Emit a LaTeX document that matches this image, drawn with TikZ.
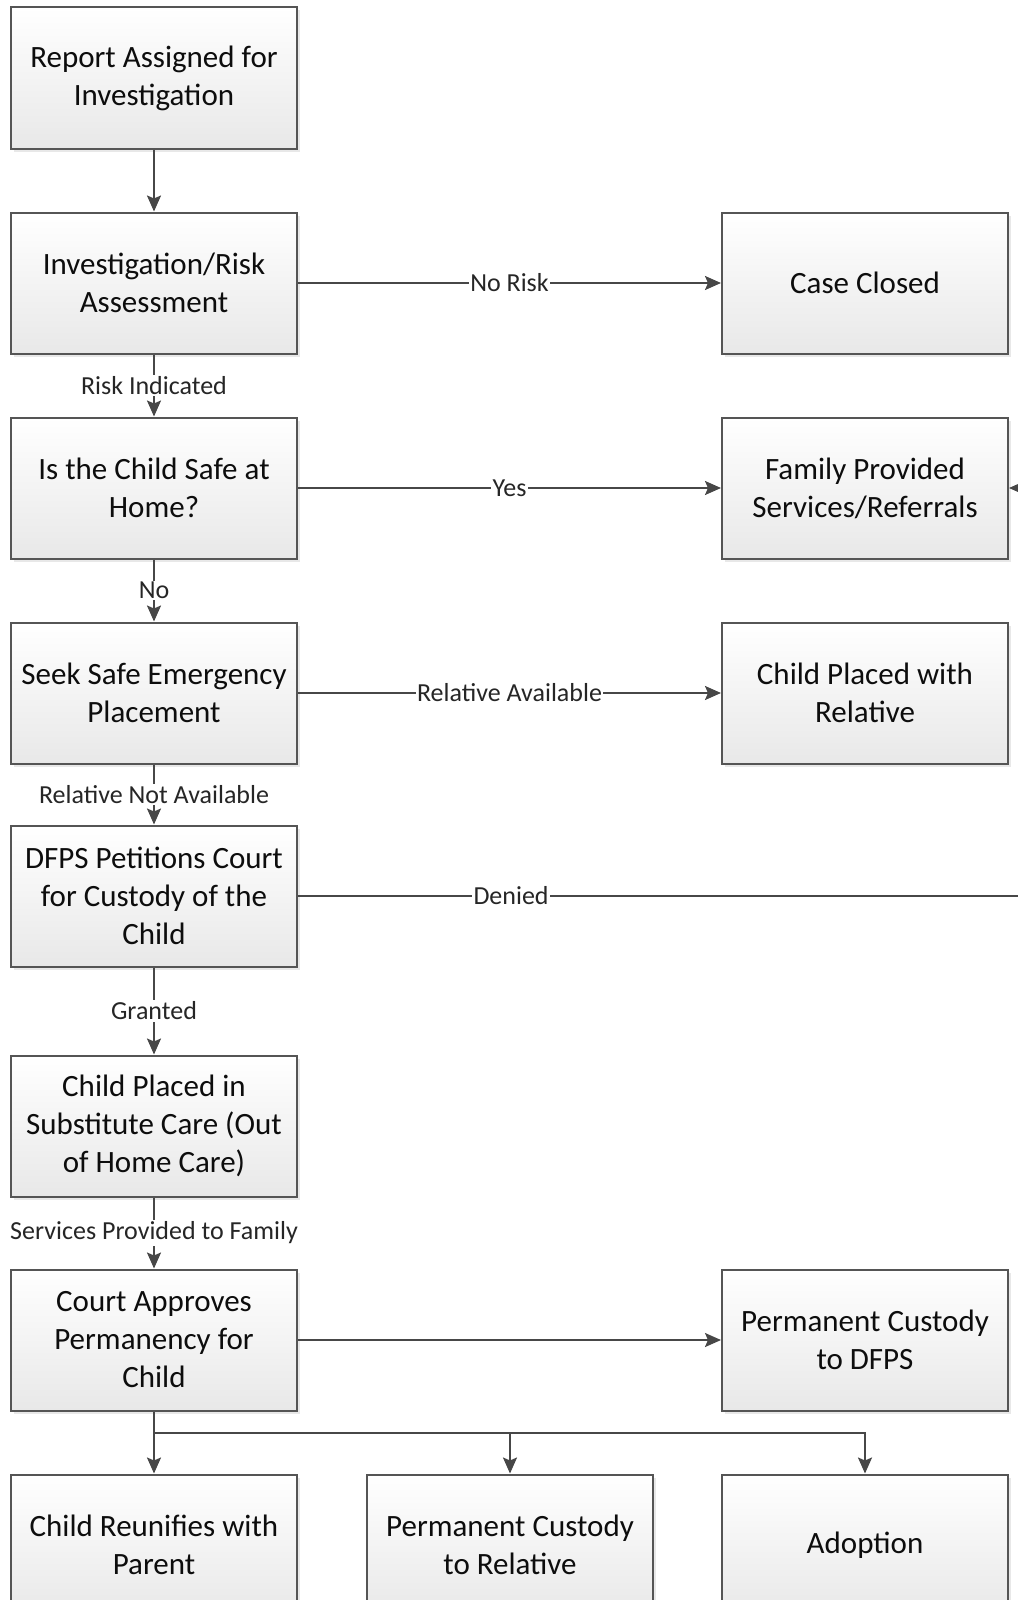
\documentclass[tikz,border=0pt]{standalone}
\usepackage{fontspec}
\setmainfont{Carlito}
\usetikzlibrary{positioning, arrows.meta, calc, shadows}
\usepackage{xcolor}
\definecolor{boxline}{HTML}{555555}
\definecolor{flowline}{HTML}{474747}

\begin{document}
\begin{tikzpicture}[
    node distance=62pt,
    stage/.style={rectangle, draw=boxline, line width=2pt, top color=white, bottom color=black!9, minimum width=286pt, minimum height=141pt, align=center, font=\fontsize{31}{38}\selectfont, text=black!95, drop shadow={opacity=0.18, shadow xshift=3pt, shadow yshift=-3pt}},
    flow/.style={-{Stealth[length=16pt, width=14pt, inset=3pt]}, line width=2pt, color=flowline},
    tag/.style={fill=white, inner sep=1.5pt, font=\fontsize{26}{30}\selectfont, text=black!85}
]
    \useasboundingbox (0,0) rectangle (1017pt,-1600pt);

    % Main column
    \node[stage] (report) at (154pt,-78pt) {Report Assigned for\\Investigation};
    \node[stage, below=of report] (invest) {Investigation/Risk\\Assessment};
    \node[stage, below=of invest] (safe) {Is the Child Safe at\\Home?};
    \node[stage, below=of safe] (seek) {Seek Safe Emergency\\Placement};
    \node[stage, below=60pt of seek] (dfps) {DFPS Petitions Court\\for Custody of the\\Child};
    \node[stage, below=87pt of dfps] (subst) {Child Placed in\\Substitute Care (Out\\of Home Care)};
    \node[stage, below=71pt of subst] (court) {Court Approves\\Permanency for\\Child};

    % Right column
    \node[stage, right=423pt of invest] (closed) {Case Closed};
    \node[stage, right=423pt of safe] (family) {Family Provided\\Services/Referrals};
    \node[stage, right=423pt of seek] (relative) {Child Placed with\\Relative};
    \node[stage, right=423pt of court] (permdfps) {Permanent Custody\\to DFPS};

    % Outcomes
    \node[stage, below=of court] (reunify) {Child Reunifies with\\Parent};
    \node[stage, right=68pt of reunify] (custrel) {Permanent Custody\\to Relative};
    \node[stage, below=of permdfps] (adoption) {Adoption};

    \coordinate (loop) at ([xshift=50pt]family.east);
    \coordinate (split) at ($(court.south)!0.35!(reunify.north)$);

    % Connectors
    \draw[flow] (report) -- (invest);
    \draw[flow] (invest) -- node[tag]{No Risk} (closed);
    \draw[flow] (invest) -- node[tag]{Risk Indicated} (safe);
    \draw[flow] (safe) -- node[tag]{Yes} (family);
    \draw[flow] (safe) -- node[tag]{No} (seek);
    \draw[flow] (seek) -- node[tag]{Relative Available} (relative);
    \draw[flow] (seek) -- node[tag]{Relative Not Available} (dfps);
    \draw[flow] (dfps.east) -- node[tag, pos=0.28]{Denied} (dfps.east -| loop) |- (family.east);
    \draw[flow] (dfps) -- node[tag]{Granted} (subst);
    \draw[flow] (subst) -- node[tag]{Services Provided to Family} (court);
    \draw[flow] (court) -- (permdfps);
    \draw[flow] (court.south) -- (reunify.north);
    \draw[flow] (split) -| (custrel.north);
    \draw[flow] (split) -| (adoption.north);

\end{tikzpicture}
\end{document}
